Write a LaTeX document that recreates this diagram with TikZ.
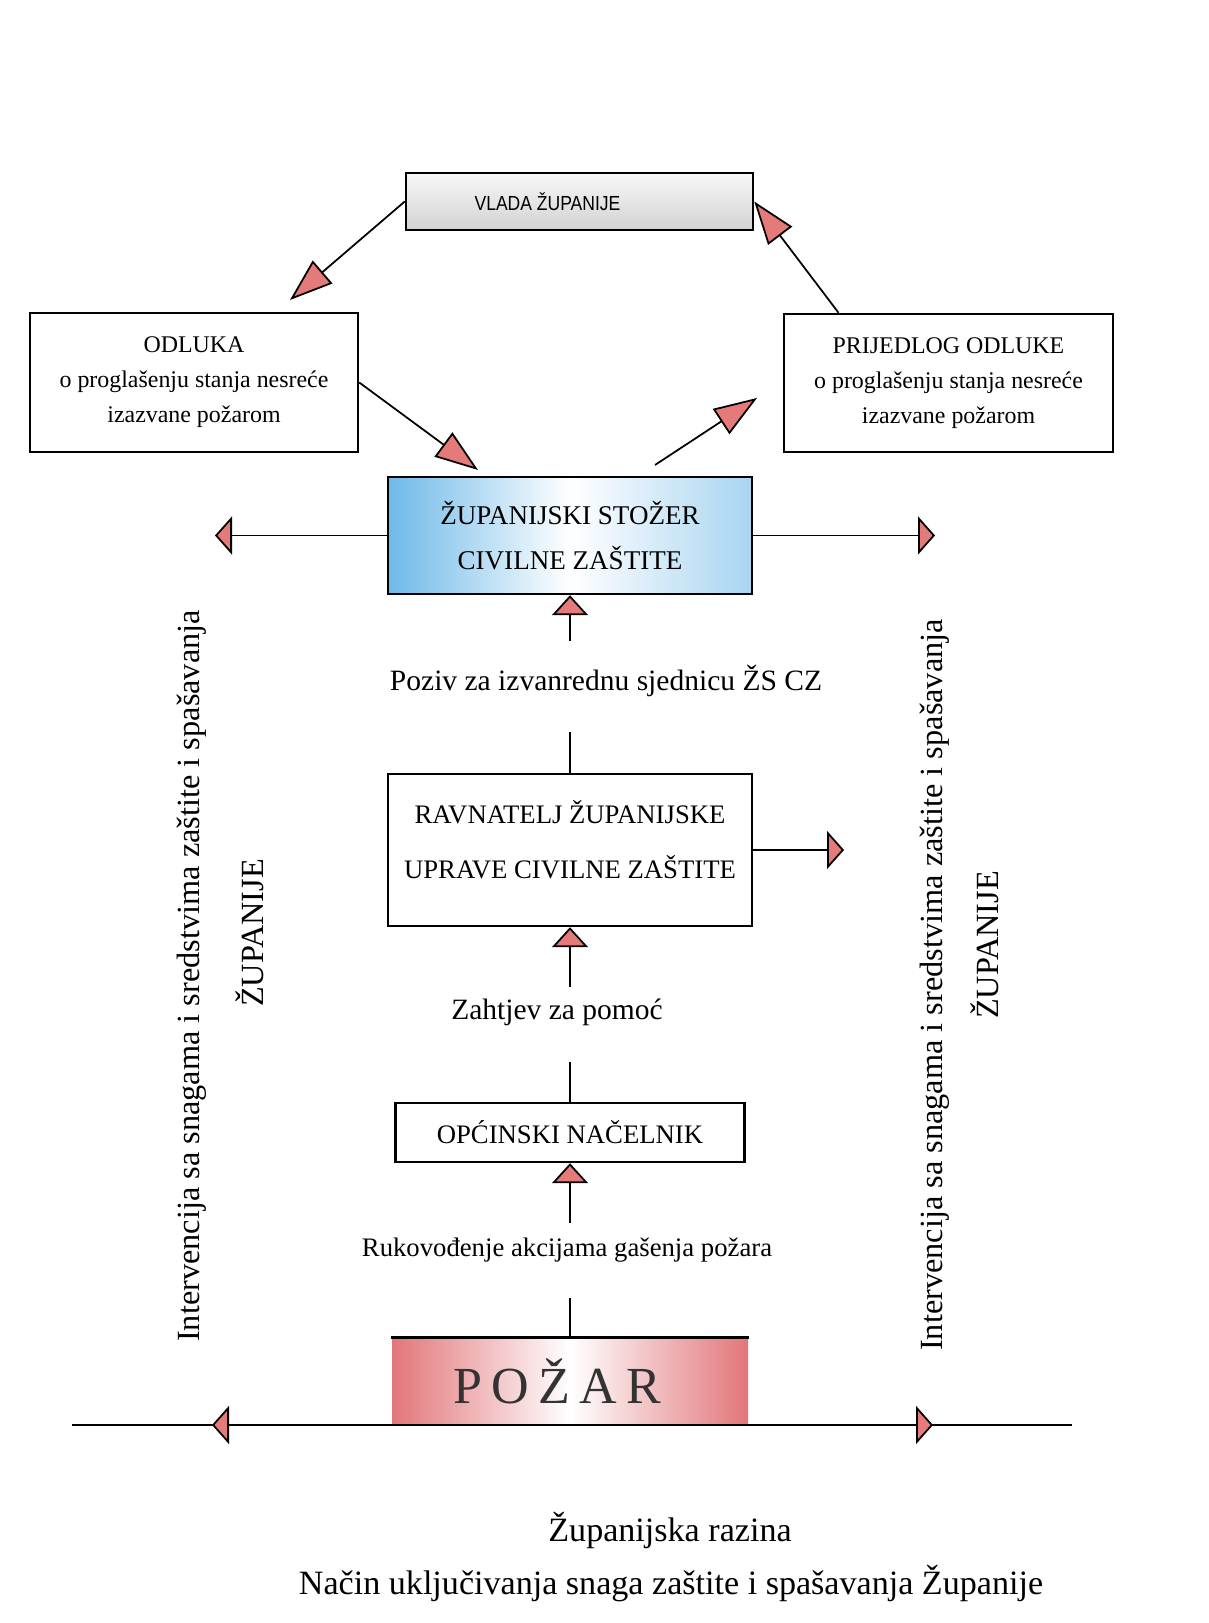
\documentclass[tikz,border=0pt]{standalone}
\usepackage{fontspec}
\setmainfont{Liberation Serif}
\newfontfamily\vladafont[FakeStretch=0.86]{Liberation Sans}
\newfontfamily\pozarfont[LetterSpace=18]{Liberation Serif}
\usetikzlibrary{arrows.meta}
\definecolor{tipred}{RGB}{228,122,122}
\definecolor{zsblue}{RGB}{110,185,232}
\definecolor{pozred}{RGB}{226,118,122}
\tikzset{
  box/.style={draw, line width=0.7pt, inner sep=0pt, align=center},
  lbl/.style={inner sep=0pt, text height=2.2mm, text depth=0.7mm},
  turn/.style={rotate=90, inner sep=0pt, font=\fontsize{9.2}{11}\selectfont},
  uphead/.tip={Triangle[length=2mm, width=3.6mm, fill=tipred]},
  sidehead/.tip={Triangle[length=1.7mm, width=3.8mm, fill=tipred]},
  diaghead/.tip={Triangle[length=4.3mm, width=3mm, fill=tipred]}
}
\begin{document}
\begin{tikzpicture}[line width=0.5pt]
  \useasboundingbox (0,0) rectangle (12.08,16.23);
  \node[box, minimum width=3.47cm, minimum height=0.57cm, top color=gray!6, bottom color=gray!35, font=\vladafont\fontsize{5.8}{7}\selectfont] (vlada) at (5.795,14.215) {VLADA ŽUPANIJE\hspace*{0.64cm}};
  \node[box, minimum width=3.28cm, minimum height=1.39cm, font=\fontsize{6.8}{10}\selectfont] (odluka) at (1.94,12.405) {ODLUKA\\o proglašenju stanja nesreće\\izazvane požarom};
  \node[box, minimum width=3.29cm, minimum height=1.38cm, font=\fontsize{6.8}{10}\selectfont] (prijedlog) at (9.485,12.40) {PRIJEDLOG ODLUKE\\o proglašenju stanja nesreće\\izazvane požarom};
  \node[box, minimum width=3.64cm, minimum height=1.17cm, left color=zsblue, right color=zsblue!60, middle color=white, font=\fontsize{7.7}{12.8}\selectfont] (stozer) at (5.70,10.875) {ŽUPANIJSKI STOŽER\\CIVILNE ZAŠTITE};
  \node[box, minimum width=3.64cm, minimum height=1.52cm, font=\fontsize{7.6}{15.7}\selectfont] (ravnatelj) at (5.70,7.73) {RAVNATELJ ŽUPANIJSKE\\UPRAVE CIVILNE ZAŠTITE\\[-3.5mm]\mbox{}};
  \node[box, minimum width=3.49cm, minimum height=0.59cm, font=\fontsize{7.6}{9}\selectfont] (nacelnik) at (5.70,4.905) {OPĆINSKI NAČELNIK};
  \node[inner sep=0pt, minimum width=3.56cm, minimum height=0.87cm, left color=pozred, right color=pozred, middle color=white, text=black!80, font=\pozarfont\fontsize{14.8}{16}\selectfont] (pozar) at (5.70,2.415) {POŽAR\hspace*{2.5mm}};
  \draw[line width=0.9pt] (pozar.north west) -- (pozar.north east);

  \node[lbl, font=\fontsize{8.4}{10}\selectfont] (poziv) at (6.06,9.40) {Poziv za izvanrednu sjednicu ŽS CZ};
  \node[lbl, font=\fontsize{8.4}{10}\selectfont] (zahtjev) at (5.57,6.11) {Zahtjev za pomoć};
  \node[lbl, font=\fontsize{7.6}{9}\selectfont] (rukovodjenje) at (5.67,3.74) {Rukovođenje akcijama gašenja požara};

  \node[turn] (intl) at (1.92,6.47) {Intervencija sa snagama i sredstvima zaštite i spašavanja};
  \node[turn] (zupl) at (2.50,6.90) {ŽUPANIJE};
  \node[turn] (intr) at (9.35,6.38) {Intervencija sa snagama i sredstvima zaštite i spašavanja};
  \node[turn] (zupr) at (9.85,6.78) {ŽUPANIJE};

  \node[font=\fontsize{9.7}{12}\selectfont] (razina) at (6.70,0.93) {Županijska razina};
  \node[font=\fontsize{9.7}{12}\selectfont] (nacin) at (6.71,0.39) {Način uključivanja snaga zaštite i spašavanja Županije};

  \coordinate (odin) at (2.90,13.23);
  \coordinate (stin) at (4.78,11.53);
  \coordinate (stout) at (6.55,11.58);
  \coordinate (prin) at (7.57,12.25);
  \coordinate (zl) at (2.15,10.875);
  \coordinate (zr) at (9.35,10.875);
  \coordinate (rr) at (8.44,7.73);
  \coordinate (gl) at (0.72,1.98);
  \coordinate (gr) at (10.72,1.98);
  \coordinate (gal) at (2.12,1.98);
  \coordinate (gar) at (9.33,1.98);

  \draw[-{diaghead}] (vlada.west) -- (odin);
  \draw[-{diaghead}] ([xshift=-1.1cm]prijedlog.north) -- (vlada.east);
  \draw[-{diaghead}] (odluka.east) -- (stin);
  \draw[-{diaghead}] (stout) -- (prin);
  \draw[-{sidehead}] (stozer.west) -- (zl);
  \draw[-{sidehead}] (stozer.east) -- (zr);
  \draw[-{sidehead}] (ravnatelj.east) -- (rr);

  \draw (ravnatelj.north) -- ([yshift=-3.4mm]poziv.south -| ravnatelj.north);
  \draw[-{uphead}] ([yshift=2.7mm]poziv.north -| stozer.south) -- (stozer.south);
  \draw (nacelnik.north) -- ([yshift=-3.5mm]zahtjev.south -| nacelnik.north);
  \draw[-{uphead}] ([yshift=1mm]zahtjev.north -| ravnatelj.south) -- (ravnatelj.south);
  \draw (pozar.north) -- ([yshift=-3.4mm]rukovodjenje.south -| pozar.north);
  \draw[-{uphead}] ([yshift=1.1mm]rukovodjenje.north -| nacelnik.south) -- (nacelnik.south);

  \draw (gl) -- (gr);
  \draw[-{sidehead}] ([xshift=2mm]gal) -- (gal);
  \draw[-{sidehead}] ([xshift=-2mm]gar) -- (gar);
\end{tikzpicture}
\end{document}
